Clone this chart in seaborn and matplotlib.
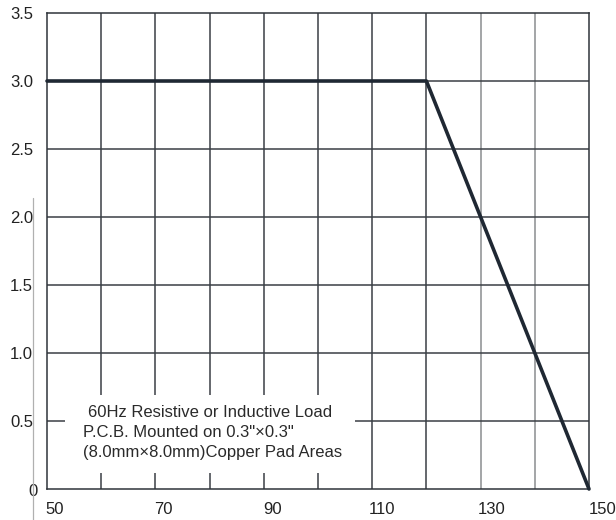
import matplotlib
matplotlib.use("Agg")
import matplotlib.pyplot as plt
import matplotlib.transforms as mtransforms
from matplotlib.lines import Line2D
from matplotlib.patches import Rectangle
import seaborn as sns
import pandas as pd

# data
temperature = [50, 120, 150]
current = [3.0, 3.0, 0.0]
x_ticks = [50, 70, 90, 110, 130, 150]
x_tick_labels = ["50", "70", "90", "110", "130", "150"]
y_ticks = [0, 0.5, 1.0, 1.5, 2.0, 2.5, 3.0, 3.5]
y_tick_labels = ["0", "0.5", "1.0", "1.5", "2.0", "2.5", "3.0", "3.5"]
grid_x = [60, 70, 80, 90, 100, 110, 120, 130, 140]
note_lines = ["60Hz Resistive or Inductive Load",
              "P.C.B. Mounted on 0.3\"×0.3\"",
              "(8.0mm×8.0mm)Copper Pad Areas"]

sns.set_style("white")
plt.rcParams['font.family'] = ['Liberation Sans', 'DejaVu Sans']

fig = plt.figure(figsize=(6.16, 5.2), dpi=100)
ax = fig.add_axes([47/616, 1-489/520, (589-47)/616, (489-13)/520])

ax.set_xlim(50, 150)
ax.set_ylim(0, 3.5)

# grid lines
for gx in grid_x:
    col = "#8a8d90" if gx >= 130 else "#3a3f45"
    ax.axvline(gx, color=col, lw=1.1, zorder=1)
for gy in y_ticks[1:-1]:
    ax.axhline(gy, color="#3a3f45", lw=1.1, zorder=1)

# white note box
ax.add_patch(Rectangle((53.3, 0.118), 53.5, 0.572, facecolor="white",
                       edgecolor="none", zorder=2))

df = pd.DataFrame({"T": temperature, "I": current})
sns.lineplot(data=df, x="T", y="I", ax=ax, color="#1f2833", lw=2.6,
             zorder=5, clip_on=False)
ax.set_xlabel("")
ax.set_ylabel("")

for spine in ax.spines.values():
    spine.set_color("#2f343a")
    spine.set_linewidth(1.1)
    spine.set_visible(True)

ax.set_xticks(x_ticks)
ax.set_xticklabels(x_tick_labels)
ax.set_yticks(y_ticks)
ax.set_yticklabels(y_tick_labels)
ax.tick_params(axis="both", length=0, labelsize=12, labelcolor="#222222")
ax.tick_params(axis="y", pad=10)
ax.tick_params(axis="x", pad=9)

x_offsets = [8, 8, 9, 10, 11, 14]
for lab, dx in zip(ax.get_xticklabels(), x_offsets):
    lab.set_transform(lab.get_transform() +
                      mtransforms.ScaledTranslation(dx/100, 0, fig.dpi_scale_trans))
ylabs = ax.get_yticklabels()
ylabs[0].set_transform(ylabs[0].get_transform() +
                       mtransforms.ScaledTranslation(5/100, -1/100, fig.dpi_scale_trans))

# note text
for i, line in enumerate(note_lines):
    xpos = 57.5 if i == 0 else 56.6
    ax.text(xpos, 0.559 - i*0.147, line, fontsize=12, color="#2a2a2a",
            va="center", ha="left", zorder=6)

# thin gray stray line at left
fig.add_artist(Line2D([33/616, 33/616], [0, 1-198/520], color="#b0b0b0",
                      lw=0.9, transform=fig.transFigure))

fig.savefig("out.png", dpi=100, facecolor="white")
